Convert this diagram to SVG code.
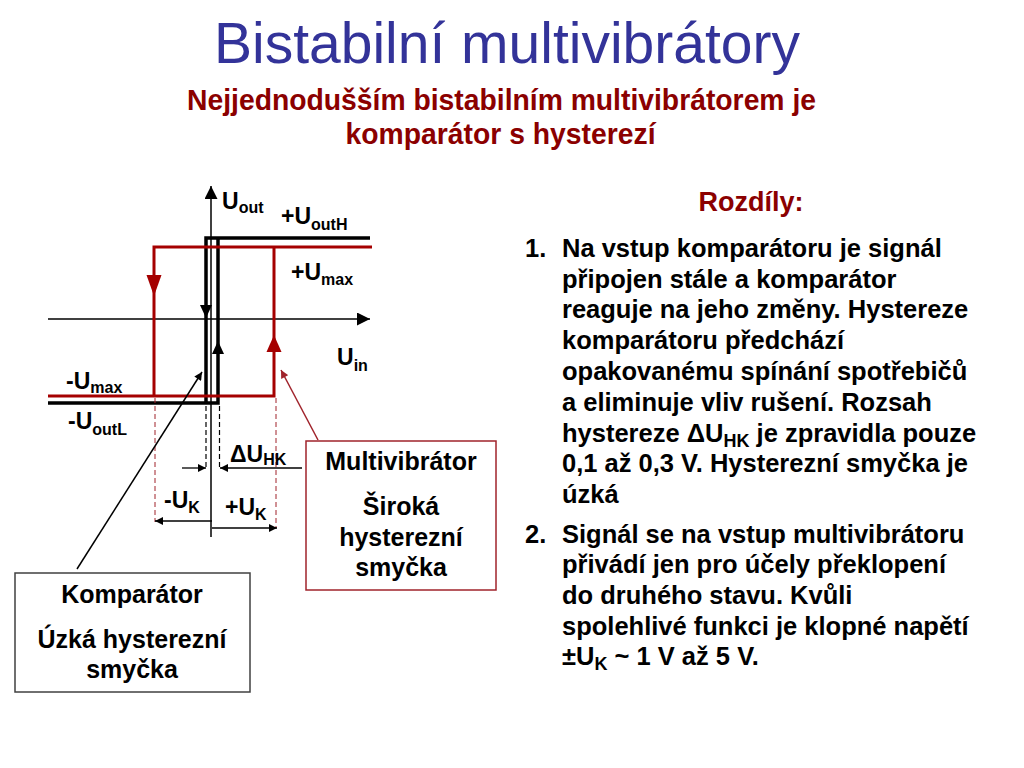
<svg xmlns="http://www.w3.org/2000/svg" width="1024" height="768" viewBox="0 0 1024 768">
<defs>
<marker id="ah" viewBox="0 0 10 10" refX="10" refY="5" markerUnits="userSpaceOnUse" markerWidth="10" markerHeight="8" orient="auto"><path d="M0,0 L10,5 L0,10 z" fill="#000"/></marker>
<marker id="ahBig" viewBox="0 0 10 10" refX="10" refY="5" markerUnits="userSpaceOnUse" markerWidth="16" markerHeight="13" orient="auto"><path d="M0,0 L10,5 L0,10 z" fill="#000"/></marker>
<marker id="ahRed" viewBox="0 0 10 10" refX="10" refY="5" markerUnits="userSpaceOnUse" markerWidth="10" markerHeight="8" orient="auto"><path d="M0,0 L10,5 L0,10 z" fill="#A0232B"/></marker>
</defs>
<style>
text{font-family:"Liberation Sans",Arial,sans-serif}
.lbl{font-size:23px;font-weight:bold;fill:#000}
.sub{font-size:16px}
.body{font-size:25.5px;font-weight:bold;fill:#000}
.bsub{font-size:18px}
.box{font-size:25px;font-weight:bold;fill:#000;text-anchor:middle}
.red{stroke:#A50000;stroke-width:3;fill:none}
.blk{stroke:#000;stroke-width:3.5;fill:none}
.axis{stroke:#000;stroke-width:1.5;fill:none}
.dashB{stroke:#000;stroke-width:1.2;stroke-dasharray:5,3}
.dashR{stroke:#A0232B;stroke-width:1;stroke-dasharray:5,3}
.dim{stroke:#000;stroke-width:1.3}
</style>
<rect width="1024" height="768" fill="#fff"/>

<g id="title">
<text x="507" y="63" text-anchor="middle" font-size="57" fill="#333399">Bistabilní multivibrátory</text>
<text x="501.5" y="110" text-anchor="middle" font-size="30" font-weight="bold" fill="#8B0000" textLength="629" lengthAdjust="spacingAndGlyphs">Nejjednodušším bistabilním multivibrátorem je</text>
<text x="500.5" y="144" text-anchor="middle" font-size="30" font-weight="bold" fill="#8B0000" textLength="310" lengthAdjust="spacingAndGlyphs">komparátor s hysterezí</text>
</g>

<g id="graph">
<line x1="48" y1="319" x2="370" y2="319" class="axis" marker-end="url(#ahBig)"/>
<line x1="211" y1="537" x2="211" y2="186" class="axis" marker-end="url(#ahBig)"/>
<path class="blk" d="M48,403 H218 V238 M206,403 V238 H370"/>
<polygon points="200,305 212,305 206,318" fill="#000"/>
<polygon points="212,354 224,354 218,341" fill="#000"/>
<path class="red" d="M48,396 H274 V247 M154,396 V247 H372"/>
<polygon points="146.5,275 161.5,275 154,296" fill="#A50000"/>
<polygon points="266.5,352 281.5,352 274,335" fill="#A50000"/>
<line class="dashB" x1="206" y1="406" x2="206" y2="470"/>
<line class="dashB" x1="219.5" y1="406" x2="219.5" y2="470"/>
<line class="dashR" x1="155" y1="398" x2="155" y2="522"/>
<line class="dashR" x1="276" y1="398" x2="276" y2="528"/>
<line class="dim" x1="182" y1="468" x2="206" y2="468" marker-end="url(#ah)"/>
<line class="dim" x1="302" y1="468" x2="220" y2="468" marker-end="url(#ah)"/>
<line class="dim" x1="212" y1="521" x2="155" y2="521" marker-end="url(#ah)"/>
<line class="dim" x1="212" y1="528" x2="277" y2="528" marker-end="url(#ah)"/>
<text class="lbl" x="222" y="209">U<tspan class="sub" dy="4">out</tspan></text>
<text class="lbl" x="281" y="224">+U<tspan class="sub" dy="6">outH</tspan></text>
<text class="lbl" x="291" y="280">+U<tspan class="sub" dy="5">max</tspan></text>
<text class="lbl" x="337" y="365">U<tspan class="sub" dy="6">in</tspan></text>
<text class="lbl" x="66" y="389">-U<tspan class="sub" dy="4">max</tspan></text>
<text class="lbl" x="68" y="429">-U<tspan class="sub" dy="6">outL</tspan></text>
<text class="lbl" x="230" y="462">ΔU<tspan class="sub" dy="3">HK</tspan></text>
<text class="lbl" x="164" y="508">-U<tspan class="sub" dy="5">K</tspan></text>
<text class="lbl" x="225" y="515">+U<tspan class="sub" dy="5">K</tspan></text>
</g>

<g id="connectors">
<line x1="77" y1="569" x2="202" y2="372" stroke="#000" stroke-width="1.5" marker-end="url(#ah)"/>
<line x1="318" y1="440" x2="281" y2="370" stroke="#A0232B" stroke-width="1.5" marker-end="url(#ahRed)"/>
</g>

<g id="komparator">
<rect x="15" y="573" width="235" height="119" fill="#fff" stroke="#404040" stroke-width="1.5"/>
<text class="box" x="132" y="603">Komparátor</text>
<text class="box" x="132" y="648">Úzká hysterezní</text>
<text class="box" x="132" y="678">smyčka</text>
</g>

<g id="multivibrator">
<rect x="306" y="441" width="190" height="149" fill="#fff" stroke="#A0232B" stroke-width="1.5"/>
<text class="box" x="401" y="470">Multivibrátor</text>
<text class="box" x="401" y="515">Široká</text>
<text class="box" x="401" y="546">hysterezní</text>
<text class="box" x="401" y="576">smyčka</text>
</g>

<g id="rozdily">
<text x="751" y="211" text-anchor="middle" font-size="27" font-weight="bold" fill="#8B0000">Rozdíly:</text>
<text class="body" x="525" y="257">1.</text>
<text class="body" x="562" y="257">Na vstup komparátoru je signál</text>
<text class="body" x="562" y="288">připojen stále a komparátor</text>
<text class="body" x="562" y="318">reaguje na jeho změny. Hystereze</text>
<text class="body" x="562" y="349">komparátoru předchází</text>
<text class="body" x="562" y="380">opakovanému spínání spotřebičů</text>
<text class="body" x="562" y="411">a eliminuje vliv rušení. Rozsah</text>
<text class="body" x="562" y="442">hystereze ΔU<tspan class="bsub" dy="5">HK</tspan><tspan dy="-5"> je zpravidla pouze</tspan></text>
<text class="body" x="562" y="472">0,1 až 0,3 V. Hysterezní smyčka je</text>
<text class="body" x="562" y="503">úzká</text>
<text class="body" x="525" y="543">2.</text>
<text class="body" x="562" y="543">Signál se na vstup multivibrátoru</text>
<text class="body" x="562" y="573">přivádí jen pro účely překlopení</text>
<text class="body" x="562" y="604">do druhého stavu. Kvůli</text>
<text class="body" x="562" y="635">spolehlivé funkci je klopné napětí</text>
<text class="body" x="562" y="665">±U<tspan class="bsub" dy="5">K</tspan><tspan dy="-5"> ~ 1 V až 5 V.</tspan></text>
</g>
</svg>
